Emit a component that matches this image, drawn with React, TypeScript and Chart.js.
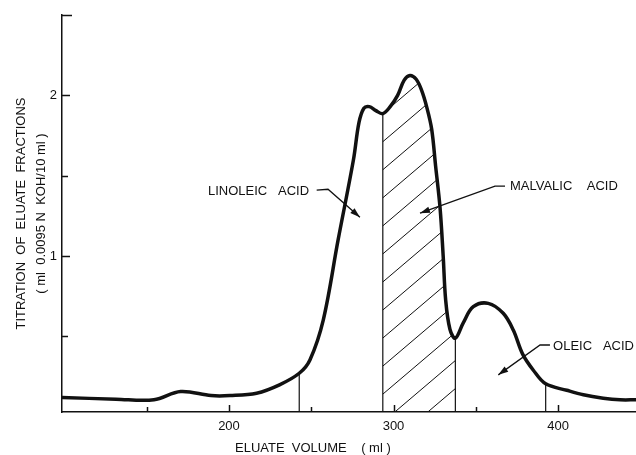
import React, { useEffect, useRef } from "react";
import { Chart, registerables } from "chart.js";

Chart.register(...registerables);

// Eluate volume (ml) and titration (ml 0.0095 N KOH / 10 ml)
const volumes = [
  98.5, 131.3, 154.4, 170.6, 189.1, 200.6, 216.8, 230.7, 242.7, 249.2,
  257.3, 266.3, 275.6, 279.0, 282.0, 285.3, 289.3, 293.5,
  298.0, 302.5, 306.5, 310.0, 313.8, 317.1, 320.2, 323.2, 325.6, 328.3,
  330.2, 331.7, 334.3, 337.6, 342.4, 348.5, 357.6, 366.7, 372.8,
  378.5, 385.0, 392.5, 405.3, 415.4, 427.5, 437.7, 447.4,
];
const titration = [
  0.12, 0.11, 0.106, 0.157, 0.132, 0.132, 0.147, 0.199, 0.271, 0.354,
  0.602, 1.099, 1.596, 1.83, 1.92, 1.93, 1.905, 1.886,
  1.93, 2.0, 2.095, 2.124, 2.1, 2.031, 1.927, 1.79, 1.56, 1.3,
  1.0, 0.727, 0.545, 0.489, 0.585, 0.685, 0.706, 0.644, 0.54,
  0.39, 0.29, 0.205, 0.165, 0.137, 0.116, 0.106, 0.106,
];

const xTicks = [150, 200, 250, 300, 350, 400];
const xLabels = [200, 300, 400];
const yTicks = [0.5, 1, 1.5, 2, 2.5];
const yLabels = [1, 2];

const fractionCuts = [242.7, 293.5, 337.6, 392.5];
const hatchRange = [293.5, 337.6];

const yTitle = ["TITRATION  OF  ELUATE  FRACTIONS", "( ml  0.0095 N  KOH/10 ml )"];
const xTitle = "ELUATE  VOLUME    ( ml )";

const labelTexts = ["LINOLEIC   ACID", "MALVALIC    ACID", "OLEIC   ACID"];
const labelAnchors = [
  [187.2, 1.404],
  [370.8, 1.435],
  [397.0, 0.435],
];
const arrowPaths = [
  [[253.3, 1.41], [260.2, 1.416], [279.6, 1.242]],
  [[367.8, 1.435], [361.7, 1.435], [316.1, 1.267]],
  [[395.1, 0.447], [389.1, 0.447], [363.7, 0.261]],
];

const FONT = '"Liberation Sans", Arial, sans-serif';

const overlay = {
  id: "overlay",
  afterDatasetsDraw(chart: any) {
    const { ctx, chartArea, scales } = chart;
    const xs = scales.x;
    const meta = chart.getDatasetMeta(0);
    const line = meta.dataset;
    const pts = meta.data;
    const bottom = chartArea.bottom;

    // hatched malvalic fraction
    const x1 = xs.getPixelForValue(hatchRange[0]);
    const x2 = xs.getPixelForValue(hatchRange[1]);
    ctx.save();
    ctx.beginPath();
    ctx.rect(x1, chartArea.top, x2 - x1, bottom - chartArea.top);
    ctx.clip();
    ctx.beginPath();
    if (line && typeof line.path === "function") {
      line.path(ctx);
    } else {
      pts.forEach((p: any, i: number) => (i ? ctx.lineTo(p.x, p.y) : ctx.moveTo(p.x, p.y)));
    }
    ctx.lineTo(pts[pts.length - 1].x, bottom + 2);
    ctx.lineTo(pts[0].x, bottom + 2);
    ctx.closePath();
    ctx.clip();
    ctx.strokeStyle = "#111";
    ctx.lineWidth = 1;
    const k = 0.85;
    const spacing = 33;
    const phase = x1 + 12;
    ctx.beginPath();
    for (let n = -20; n < 4; n++) {
      const xb = phase + n * spacing;
      ctx.moveTo(xb, bottom);
      ctx.lineTo(xb + 700, bottom - k * 700);
    }
    ctx.stroke();
    ctx.restore();

    // fraction cut lines
    ctx.save();
    ctx.strokeStyle = "#111";
    ctx.lineWidth = 1.2;
    fractionCuts.forEach((c) => {
      const idx = volumes.indexOf(c);
      if (idx < 0) return;
      const p = pts[idx];
      ctx.beginPath();
      ctx.moveTo(p.x, p.y);
      ctx.lineTo(p.x, bottom);
      ctx.stroke();
    });
    ctx.restore();
  },
  afterDraw(chart: any) {
    const { ctx, chartArea, scales } = chart;
    const xs = scales.x;
    const ys = scales.y;
    ctx.save();
    ctx.strokeStyle = "#111";
    ctx.lineWidth = 1.5;
    yTicks.forEach((v) => {
      const y = Math.round(ys.getPixelForValue(v)) + 0.5;
      const len = yLabels.includes(v) ? 8 : v === 2.5 ? 10 : 6;
      ctx.beginPath();
      ctx.moveTo(chartArea.left, y);
      ctx.lineTo(chartArea.left + len, y);
      ctx.stroke();
    });
    xTicks.forEach((v) => {
      const x = Math.round(xs.getPixelForValue(v)) + 0.5;
      const len = xLabels.includes(v) ? 7 : 5;
      ctx.beginPath();
      ctx.moveTo(x, chartArea.bottom);
      ctx.lineTo(x, chartArea.bottom - len);
      ctx.stroke();
    });

    ctx.fillStyle = "#111";
    ctx.font = `13px ${FONT}`;
    ctx.textBaseline = "middle";
    ctx.textAlign = "left";
    labelTexts.forEach((t, i) => {
      const [vx, vy] = labelAnchors[i];
      ctx.fillText(t, xs.getPixelForValue(vx), ys.getPixelForValue(vy));
    });
    ctx.lineWidth = 1.3;
    arrowPaths.forEach((path) => {
      const p = path.map(([vx, vy]) => [xs.getPixelForValue(vx), ys.getPixelForValue(vy)]);
      ctx.beginPath();
      ctx.moveTo(p[0][0], p[0][1]);
      for (let i = 1; i < p.length; i++) ctx.lineTo(p[i][0], p[i][1]);
      ctx.stroke();
      const a = p[p.length - 2];
      const b = p[p.length - 1];
      const ang = Math.atan2(b[1] - a[1], b[0] - a[0]);
      const L = 10;
      const W = 3.2;
      ctx.beginPath();
      ctx.moveTo(b[0], b[1]);
      ctx.lineTo(b[0] - L * Math.cos(ang) + W * Math.sin(ang), b[1] - L * Math.sin(ang) - W * Math.cos(ang));
      ctx.lineTo(b[0] - L * Math.cos(ang) - W * Math.sin(ang), b[1] - L * Math.sin(ang) + W * Math.cos(ang));
      ctx.closePath();
      ctx.fill();
    });

    ctx.textAlign = "center";
    ctx.font = `13px ${FONT}`;
    ctx.fillText(xTitle, xs.getPixelForValue(251), chartArea.bottom + 36);
    ctx.restore();
  },
};

export default function App() {
  const ref = useRef<HTMLCanvasElement | null>(null);
  useEffect(() => {
    document.body.style.margin = "0";
    const canvas = ref.current;
    if (!canvas) return;
    const chart = new Chart(canvas, {
      type: "line",
      data: {
        labels: volumes,
        datasets: [
          {
            data: volumes.map((v, i) => ({ x: v, y: titration[i] })),
            borderColor: "#111",
            borderWidth: 3.5,
            borderJoinStyle: "round",
            pointRadius: 0,
            tension: 0.35,
            fill: false,
          },
        ],
      },
      options: {
        responsive: false,
        animation: false,
        devicePixelRatio: 1,
        layout: { padding: { top: 15, right: 0, left: 0, bottom: 0 } },
        plugins: { legend: { display: false }, tooltip: { enabled: false } },
        scales: {
          x: {
            type: "linear",
            min: 98.5,
            max: 447.4,
            grid: { display: false, drawTicks: false },
            border: { display: true, color: "#111", width: 1.5 },
            afterBuildTicks: (s: any) => {
              s.ticks = xTicks.map((v) => ({ value: v }));
            },
            afterFit: (s: any) => {
              s.height = 43;
            },
            ticks: {
              color: "#111",
              padding: 7,
              maxRotation: 0,
              autoSkip: false,
              font: { size: 13, family: FONT },
              callback: (v: any) => (xLabels.includes(Number(v)) ? String(v) : ""),
            },
          },
          y: {
            type: "linear",
            min: 0.03,
            max: 2.5,
            grid: { display: false, drawTicks: false },
            border: { display: true, color: "#111", width: 1.5 },
            afterBuildTicks: (s: any) => {
              s.ticks = yTicks.map((v) => ({ value: v }));
            },
            afterFit: (s: any) => {
              s.width = 62;
            },
            title: {
              display: true,
              text: yTitle,
              color: "#111",
              font: { size: 13, family: FONT, lineHeight: 1.56 },
              padding: { top: 11, bottom: 0 },
            },
            ticks: {
              color: "#111",
              padding: 5,
              autoSkip: false,
              font: { size: 13, family: FONT },
              callback: (v: any) => (yLabels.includes(Number(v)) ? String(v) : ""),
            },
          },
        },
      },
      plugins: [overlay],
    });
    return () => chart.destroy();
  }, []);
  return (
    <div style={{ width: 636, height: 455, background: "#fff" }}>
      <canvas ref={ref} width={636} height={455} />
    </div>
  );
}
